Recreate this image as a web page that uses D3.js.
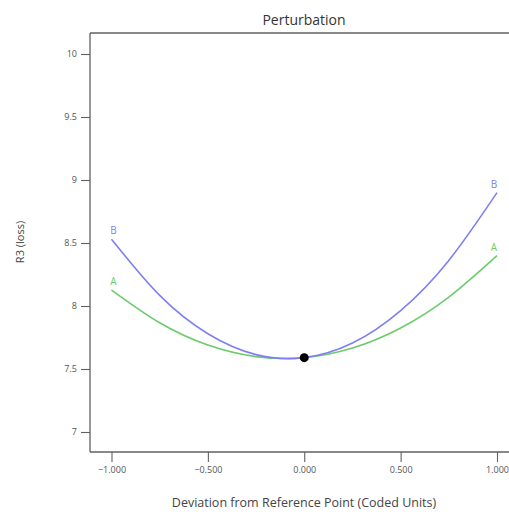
<!DOCTYPE html>
<html>
<head>
<meta charset="utf-8">
<script src="https://cdn.jsdelivr.net/npm/d3@7"></script>
<style>
  body { margin: 0; background: #fff; }
  svg { display: block; font-family: "Open Sans", sans-serif; }
</style>
</head>
<body>
<div class="container"></div>
<script>
// values
var xValues = [-1, -0.75, -0.5, -0.25, 0, 0.25, 0.5, 0.75, 1];
var seriesA = [8.127, 7.867, 7.69, 7.598, 7.59, 7.666, 7.826, 8.071, 8.40];
var seriesB = [8.53, 8.084, 7.78, 7.614, 7.59, 7.706, 7.964, 8.362, 8.90];
var refPoint = [0, 7.59];
var xTicks = [-1, -0.5, 0, 0.5, 1];
var yTicks = [7, 7.5, 8, 8.5, 9, 9.5, 10];

var svgWidth = 509;
var svgHeight = 512;

var plot = { left: 90, top: 33, right: 509, bottom: 452 };

var svg = d3.select(".container")
    .append("svg")
    .attr("width", svgWidth)
    .attr("height", svgHeight);

var xScale = d3.scaleLinear()
    .domain([-1, 1])
    .range([111.5, 497]);

var yScale = d3.scaleLinear()
    .domain([7, 10])
    .range([432, 54]);

var axisColor = "#606060";

// frame lines (left + top + bottom)
svg.append("line")
    .attr("x1", plot.left).attr("x2", plot.right)
    .attr("y1", plot.top).attr("y2", plot.top)
    .attr("stroke", axisColor).attr("stroke-width", 1.3);

var leftAxis = d3.axisLeft(yScale)
    .tickValues(yTicks)
    .tickSize(9)
    .tickPadding(4)
    .tickFormat(d3.format("~g"));

var bottomAxis = d3.axisBottom(xScale)
    .tickValues(xTicks)
    .tickSize(10)
    .tickPadding(5)
    .tickFormat(d3.format(".3f"));

var gy = svg.append("g")
    .attr("transform", `translate(${plot.left}, 0)`)
    .call(leftAxis);
gy.select(".domain").remove();

var gx = svg.append("g")
    .attr("transform", `translate(0, ${plot.bottom})`)
    .call(bottomAxis);
gx.select(".domain").remove();

svg.append("line")
    .attr("x1", plot.left).attr("x2", plot.left)
    .attr("y1", plot.top).attr("y2", plot.bottom)
    .attr("stroke", axisColor).attr("stroke-width", 1.3);
svg.append("line")
    .attr("x1", plot.left).attr("x2", plot.right)
    .attr("y1", plot.bottom).attr("y2", plot.bottom)
    .attr("stroke", axisColor).attr("stroke-width", 1.3);

svg.selectAll(".tick line").attr("stroke", axisColor).attr("stroke-width", 1.1);
svg.selectAll(".tick text")
    .attr("fill", "#555")
    .style("font-size", "9px")
    .style("font-family", "'Open Sans', sans-serif");

// titles
svg.append("text")
    .attr("x", 304).attr("y", 25)
    .attr("text-anchor", "middle")
    .attr("fill", "#333")
    .style("font-size", "14px")
    .text("Perturbation");

svg.append("text")
    .attr("transform", "translate(24, 242) rotate(-90)")
    .attr("text-anchor", "middle")
    .attr("fill", "#444")
    .style("font-size", "11px")
    .text("R3 (loss)");

svg.append("text")
    .attr("x", 304).attr("y", 507)
    .attr("text-anchor", "middle")
    .attr("fill", "#444")
    .style("font-size", "12.5px")
    .text("Deviation from Reference Point (Coded Units)");

// curves
var series = [
    { name: "A", values: seriesA, color: "#6ccc6c" },
    { name: "B", values: seriesB, color: "#7f7ff5" }
];

var line = d3.line()
    .x(d => xScale(d[0]))
    .y(d => yScale(d[1]))
    .curve(d3.curveNatural);

series.forEach(function (s) {
    var pts = xValues.map((x, i) => [x, s.values[i]]);
    svg.append("path")
        .datum(pts)
        .attr("d", line)
        .attr("fill", "none")
        .attr("stroke", s.color)
        .attr("stroke-width", 1.6);

    var first = pts[0], last = pts[pts.length - 1];
    svg.append("text")
        .attr("x", xScale(first[0]) + 2)
        .attr("y", yScale(first[1]) - 5)
        .attr("text-anchor", "middle")
        .attr("fill", s.color)
        .style("font-size", "10px")
        .text(s.name);
    svg.append("text")
        .attr("x", xScale(last[0]) - 3)
        .attr("y", yScale(last[1]) - 5)
        .attr("text-anchor", "middle")
        .attr("fill", s.color)
        .style("font-size", "10px")
        .text(s.name);
});

svg.append("circle")
    .attr("cx", xScale(refPoint[0]))
    .attr("cy", yScale(refPoint[1]))
    .attr("r", 4.5)
    .attr("fill", "#000");
</script>
</body>
</html>
